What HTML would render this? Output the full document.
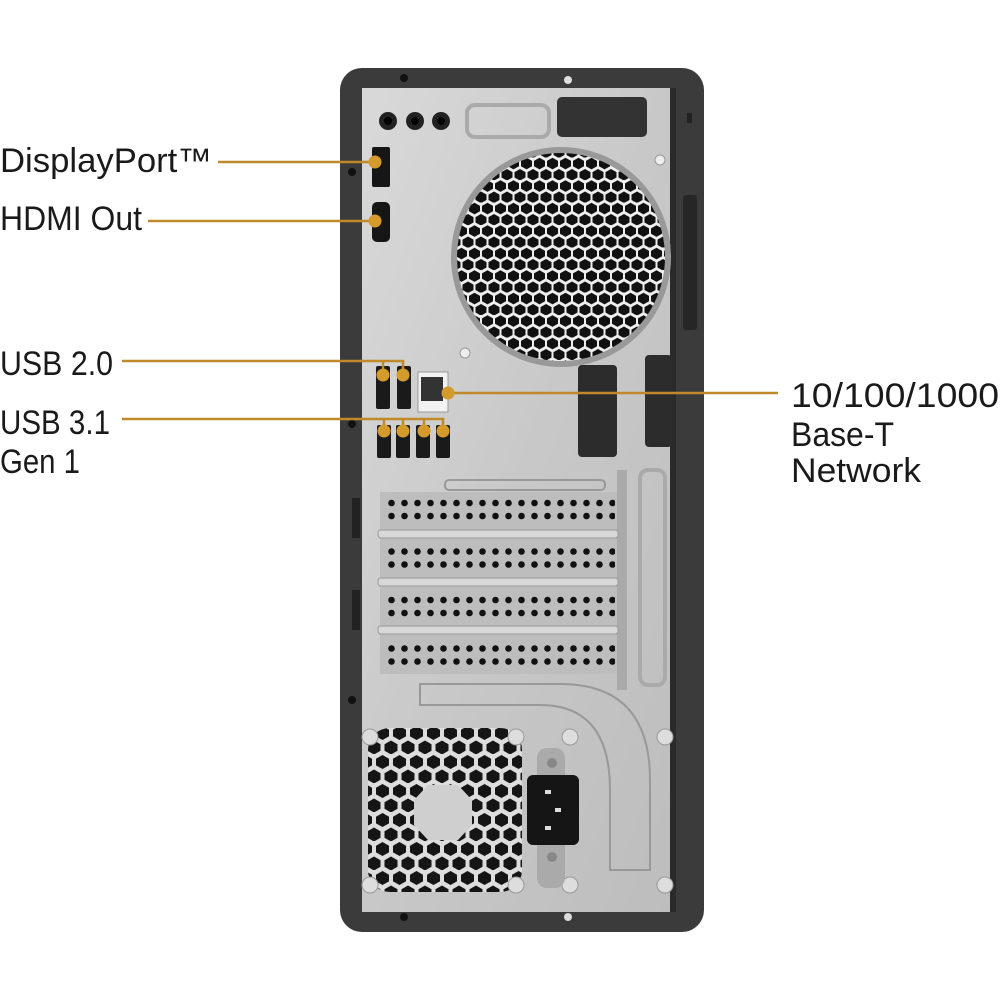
<!DOCTYPE html>
<html><head><meta charset="utf-8"><style>
html,body{margin:0;padding:0;background:#fff;width:1000px;height:1000px;overflow:hidden}
svg{display:block}
.t{font-family:"Liberation Sans",sans-serif;font-size:34px;fill:#1a1a1a;font-weight:normal}
</style></head><body>
<svg width="1000" height="1000" viewBox="0 0 1000 1000" xmlns="http://www.w3.org/2000/svg">
<defs>
<pattern id="hex" x="0" y="0" width="13" height="22.5" patternUnits="userSpaceOnUse">
<rect width="13" height="22.5" fill="#eee"/>
<polygon points="6.5,0.3 12,3.4 12,8.8 6.5,11.9 1,8.8 1,3.4" fill="#111"/>
<polygon points="0,11.5 5.5,14.6 5.5,20 0,23.1 -5.5,20 -5.5,14.6" fill="#111"/>
<polygon points="13,11.5 18.5,14.6 18.5,20 13,23.1 7.5,20 7.5,14.6" fill="#111"/>
</pattern>
<pattern id="hex2" x="0" y="0" width="17" height="29" patternUnits="userSpaceOnUse">
<rect width="17" height="29" fill="#ddd"/>
<polygon points="8.5,1 15,4.8 15,11.4 8.5,15 2,11.4 2,4.8" fill="#151515"/>
<polygon points="0,15.5 6.5,19.2 6.5,25.8 0,29.5 -6.5,25.8 -6.5,19.2" fill="#151515"/>
<polygon points="17,15.5 23.5,19.2 23.5,25.8 17,29.5 10.5,25.8 10.5,19.2" fill="#151515"/>
</pattern>
<pattern id="dots" x="385" y="498" width="13" height="48.5" patternUnits="userSpaceOnUse">
<circle cx="6.5" cy="5" r="3.3" fill="#111"/>
<circle cx="6.5" cy="18" r="3.3" fill="#111"/>
</pattern>
<linearGradient id="silver" x1="0" y1="0" x2="1" y2="1">
<stop offset="0" stop-color="#d9d9d9"/><stop offset="0.5" stop-color="#c8c8c8"/><stop offset="1" stop-color="#bdbdbd"/>
</linearGradient>
<clipPath id="fanc"><circle cx="561" cy="257" r="104"/></clipPath>
</defs>

<rect x="340" y="68" width="364" height="864" rx="22" fill="#3b3b3b"/>
<rect x="362" y="88" width="308" height="824" fill="url(#silver)"/>
<rect x="670" y="88" width="6" height="824" fill="#2a2a2a"/>
<circle cx="404" cy="78" r="4" fill="#111"/><circle cx="568" cy="80" r="4" fill="#ddd"/>
<circle cx="404" cy="917" r="4" fill="#111"/><circle cx="568" cy="917" r="4" fill="#ddd"/>
<circle cx="352" cy="172" r="4" fill="#111"/><circle cx="352" cy="424" r="4" fill="#111"/><circle cx="352" cy="700" r="4" fill="#111"/>
<rect x="352" y="498" width="8" height="40" fill="#222"/><rect x="352" y="590" width="8" height="40" fill="#222"/>
<rect x="683" y="195" width="14" height="135" rx="3" fill="#262626"/>
<rect x="687" y="113" width="5" height="10" fill="#222"/>

<circle cx="388" cy="121" r="9" fill="#222"/><circle cx="388" cy="121" r="4" fill="#000"/>
<circle cx="415" cy="121" r="9" fill="#222"/><circle cx="415" cy="121" r="4" fill="#000"/>
<circle cx="441" cy="121" r="9" fill="#222"/><circle cx="441" cy="121" r="4" fill="#000"/>
<rect x="467" y="105" width="82" height="32" rx="8" fill="none" stroke="#aaa" stroke-width="4"/>
<rect x="557" y="97" width="90" height="40" rx="5" fill="#333"/>
<rect x="372" y="147" width="18" height="40" rx="2" fill="#161616"/>
<rect x="372" y="202" width="18" height="40" rx="5" fill="#161616"/>
<circle cx="561" cy="257" r="110" fill="#999"/>
<rect x="450" y="150" width="225" height="215" fill="url(#hex)" clip-path="url(#fanc)"/>
<circle cx="660" cy="160" r="5" fill="#eee" stroke="#999"/>
<circle cx="465" cy="353" r="5" fill="#eee" stroke="#999"/>
<rect x="376" y="366" width="14" height="43" rx="2" fill="#1a1a1a"/>
<rect x="397" y="366" width="14" height="43" rx="2" fill="#1a1a1a"/>
<rect x="418" y="372" width="30" height="40" fill="#f2f2f2" stroke="#999"/>
<rect x="421" y="377" width="22" height="24" fill="#333"/>
<rect x="377" y="425" width="14" height="33" rx="2" fill="#1a1a1a"/>
<rect x="396" y="425" width="14" height="33" rx="2" fill="#1a1a1a"/>
<rect x="416" y="425" width="14" height="33" rx="2" fill="#1a1a1a"/>
<rect x="436" y="425" width="14" height="33" rx="2" fill="#1a1a1a"/>
<rect x="578" y="365" width="39" height="92" rx="4" fill="#2c2c2c"/>
<rect x="645" y="355" width="27" height="92" rx="4" fill="#2c2c2c"/>
<rect x="617" y="470" width="10" height="220" fill="#aaa"/>
<rect x="640" y="470" width="25" height="215" rx="8" fill="none" stroke="#aaa" stroke-width="4"/>
<rect x="380" y="492" width="237" height="182" fill="#bdbdbd"/>
<rect x="385" y="498" width="230" height="172" fill="url(#dots)"/>
<rect x="378" y="530" width="240" height="8" rx="3" fill="#d8d8d8" stroke="#999"/>
<rect x="378" y="578" width="240" height="8" rx="3" fill="#d8d8d8" stroke="#999"/>
<rect x="378" y="626" width="240" height="8" rx="3" fill="#d8d8d8" stroke="#999"/>
<rect x="445" y="480" width="160" height="10" rx="4" fill="none" stroke="#999" stroke-width="2"/>
<path d="M420 684 L560 684 Q650 684 650 780 L650 870 L610 870 L610 790 Q610 705 540 705 L420 705 Z" fill="none" stroke="#999" stroke-width="2"/>
<rect x="368" y="728" width="154" height="164" rx="22" fill="url(#hex2)"/>
<polygon points="428,785 458,785 472,800 472,825 458,840 428,840 414,825 414,800" fill="#cfcfcf"/>
<circle cx="370" cy="737" r="8" fill="#ddd" stroke="#999"/><circle cx="516" cy="737" r="8" fill="#ddd" stroke="#999"/>
<circle cx="370" cy="885" r="8" fill="#ddd" stroke="#999"/><circle cx="516" cy="885" r="8" fill="#ddd" stroke="#999"/>
<circle cx="570" cy="737" r="8" fill="#ddd" stroke="#999"/><circle cx="665" cy="737" r="8" fill="#ddd" stroke="#999"/>
<circle cx="570" cy="885" r="8" fill="#ddd" stroke="#999"/><circle cx="665" cy="885" r="8" fill="#ddd" stroke="#999"/>
<rect x="537" y="748" width="28" height="140" rx="10" fill="#aaa"/>
<rect x="527" y="775" width="52" height="70" rx="6" fill="#151515"/>
<rect x="545" y="790" width="6" height="4" fill="#ddd"/><rect x="555" y="808" width="6" height="4" fill="#ddd"/><rect x="545" y="826" width="6" height="4" fill="#ddd"/>
<circle cx="552" cy="763" r="5" fill="#888"/><circle cx="552" cy="857" r="5" fill="#888"/>

<g stroke="#c08a2a" stroke-width="2.5" fill="none">
<line x1="218" y1="162" x2="375" y2="162"/>
<line x1="148" y1="221" x2="375" y2="221"/>
<polyline points="122,361 403,361 403,375"/>
<line x1="383" y1="361" x2="383" y2="375"/>
<polyline points="122,419 443,419 443,430"/>
<line x1="384" y1="419" x2="384" y2="430"/>
<line x1="403" y1="419" x2="403" y2="430"/>
<line x1="424" y1="419" x2="424" y2="430"/>
<line x1="448" y1="393" x2="778" y2="393"/>
</g>
<g fill="#d49a2c">
<circle cx="375" cy="162" r="6.5"/><circle cx="375" cy="221" r="6.5"/>
<circle cx="383" cy="375" r="6.5"/><circle cx="403" cy="375" r="6.5"/>
<circle cx="384" cy="431" r="6.5"/><circle cx="403" cy="431" r="6.5"/><circle cx="424" cy="431" r="6.5"/><circle cx="443" cy="431" r="6.5"/>
<circle cx="448" cy="393" r="6.5"/>
</g>

<text class="t" x="0" y="172" textLength="212" lengthAdjust="spacingAndGlyphs">DisplayPort™</text>
<text class="t" x="0" y="230" textLength="142" lengthAdjust="spacingAndGlyphs">HDMI Out</text>
<text class="t" x="0" y="375" textLength="113" lengthAdjust="spacingAndGlyphs">USB 2.0</text>
<text class="t" x="0" y="434" textLength="110" lengthAdjust="spacingAndGlyphs">USB 3.1</text>
<text class="t" x="0" y="473" textLength="80" lengthAdjust="spacingAndGlyphs">Gen 1</text>
<text class="t" x="791" y="407" textLength="208" lengthAdjust="spacingAndGlyphs">10/100/1000</text>
<text class="t" x="791" y="446" textLength="103" lengthAdjust="spacingAndGlyphs">Base-T</text>
<text class="t" x="791" y="482" textLength="130" lengthAdjust="spacingAndGlyphs">Network</text>
</svg>
</body></html>
